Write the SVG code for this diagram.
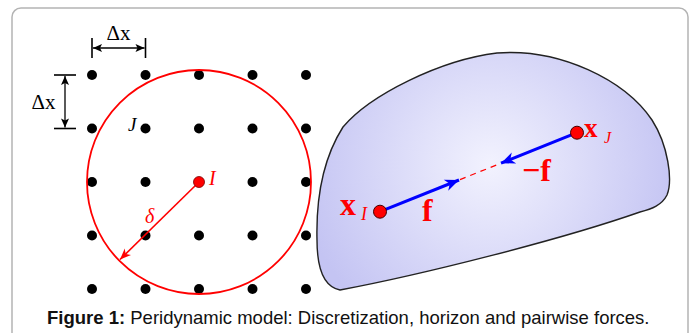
<svg xmlns="http://www.w3.org/2000/svg" width="696" height="333" viewBox="0 0 696 333">
<style>
.dot{fill:#000}
.dim{stroke:#000;stroke-width:1.3;fill:none}
.tick{stroke:#000;stroke-width:1.6}
.lbl{font-family:"Liberation Serif","DejaVu Serif",serif}
.cap{font-family:"Liberation Sans",Arial,sans-serif;font-size:18.5px;fill:#111}
</style>
<defs>
<marker id="ab" viewBox="-10 -5 12 10" refX="0" refY="0" markerWidth="12" markerHeight="10" markerUnits="userSpaceOnUse" orient="auto-start-reverse">
<path d="M0,0 L-9,-4 L-7,0 L-9,4 Z" fill="#000"/>
</marker>
<marker id="ar" viewBox="-12 -6 14 12" refX="0" refY="0" markerWidth="14" markerHeight="12" markerUnits="userSpaceOnUse" orient="auto">
<path d="M0,0 L-11,-4.5 L-8,0 L-11,4.5 Z" fill="#f00"/>
</marker>
<marker id="abl" viewBox="-16 -8 18 16" refX="0" refY="0" markerWidth="18" markerHeight="16" markerUnits="userSpaceOnUse" orient="auto">
<path d="M0,0 L-14,-6 L-10,0 L-14,6 Z" fill="#00f"/>
</marker>
<radialGradient id="bg" cx="490" cy="165" r="190" gradientUnits="userSpaceOnUse">
<stop offset="0" stop-color="#f2f2fe"/>
<stop offset="1" stop-color="#c4c4f3"/>
</radialGradient>
</defs>
<rect x="12" y="8" width="676" height="345" rx="9" fill="#fff" stroke="#b4b4b4" stroke-width="1.5"/>

<g id="grid">
<circle class="dot" cx="92" cy="75" r="5"/><circle class="dot" cx="145.5" cy="75" r="5"/><circle class="dot" cx="199" cy="75" r="5"/><circle class="dot" cx="252.5" cy="75" r="5"/><circle class="dot" cx="306" cy="75" r="5"/>
<circle class="dot" cx="92" cy="128.5" r="5"/><circle class="dot" cx="145.5" cy="128.5" r="5"/><circle class="dot" cx="199" cy="128.5" r="5"/><circle class="dot" cx="252.5" cy="128.5" r="5"/><circle class="dot" cx="306" cy="128.5" r="5"/>
<circle class="dot" cx="92" cy="182" r="5"/><circle class="dot" cx="145.5" cy="182" r="5"/><circle class="dot" cx="252.5" cy="182" r="5"/><circle class="dot" cx="306" cy="182" r="5"/>
<circle class="dot" cx="92" cy="235.5" r="5"/><circle class="dot" cx="145.5" cy="235.5" r="5"/><circle class="dot" cx="199" cy="235.5" r="5"/><circle class="dot" cx="252.5" cy="235.5" r="5"/><circle class="dot" cx="306" cy="235.5" r="5"/>
<circle class="dot" cx="92" cy="289" r="5"/><circle class="dot" cx="145.5" cy="289" r="5"/><circle class="dot" cx="199" cy="289" r="5"/><circle class="dot" cx="252.5" cy="289" r="5"/><circle class="dot" cx="306" cy="289" r="5"/>
</g>

<g id="horizon">
<circle cx="199" cy="182" r="112" fill="none" stroke="#f00" stroke-width="1.8"/>
</g>

<g id="dims">
<line class="tick" x1="92" y1="38" x2="92" y2="58"/>
<line class="tick" x1="145.5" y1="38" x2="145.5" y2="58"/>
<line class="dim" x1="93" y1="48" x2="144.5" y2="48" marker-start="url(#ab)" marker-end="url(#ab)"/>
<text class="lbl" x="118.5" y="40" font-size="21" text-anchor="middle">Δx</text>
<line class="tick" x1="54" y1="75" x2="76" y2="75"/>
<line class="tick" x1="54" y1="128.5" x2="76" y2="128.5"/>
<line class="dim" x1="65" y1="76" x2="65" y2="127.5" marker-start="url(#ab)" marker-end="url(#ab)"/>
<text class="lbl" x="43.5" y="109" font-size="21" text-anchor="middle">Δx</text>
</g>

<g id="labelJ">
<text class="lbl" x="128" y="131" font-size="19" font-style="italic">J</text>
</g>

<g id="nodeI">
<line x1="199" y1="182" x2="120" y2="259.5" stroke="#f00" stroke-width="1.6" marker-end="url(#ar)"/>
<circle cx="199" cy="182" r="5.5" fill="#f00" stroke="#700" stroke-width="0.8"/>
<text class="lbl" x="209" y="185" font-size="20" font-style="italic" fill="#f00">I</text>
<text class="lbl" x="145" y="223" font-size="20" font-style="italic" fill="#f00">δ</text>
</g>

<g id="body">
<path d="M 340,290 C 325,287 317,270 317,240 C 316,200 322,160 343,127 C 370,95 440,60 497,53 C 560,48 625,80 652,120 C 668,145 673,180 667,195 C 662,205 652,209 640,212 C 560,240 420,275 340,290 Z" fill="url(#bg)" stroke="#222" stroke-width="1.4"/>
</g>

<g id="connectors">
<line x1="380" y1="211.7" x2="459" y2="180" stroke="#00f" stroke-width="3" marker-end="url(#abl)"/>
<line x1="577" y1="132.7" x2="501" y2="163.2" stroke="#00f" stroke-width="3" marker-end="url(#abl)"/>
<line x1="460" y1="179.6" x2="500" y2="163.6" stroke="#f00" stroke-width="1.2" stroke-dasharray="6,5"/>
</g>

<g id="nodeXI">
<circle cx="380" cy="211.7" r="6.5" fill="#f00" stroke="#400" stroke-width="1"/>
<text class="lbl" x="340" y="215" font-size="32" font-weight="bold" fill="#f00">x</text>
<text class="lbl" x="361" y="220" font-size="18" font-style="italic" fill="#f00">I</text>
<text class="lbl" x="422" y="221" font-size="32" font-weight="bold" fill="#f00">f</text>
</g>

<g id="nodeXJ">
<circle cx="577" cy="132.7" r="6.5" fill="#f00" stroke="#400" stroke-width="1"/>
<text class="lbl" x="584" y="137" font-size="27" font-weight="bold" fill="#f00">x</text>
<text class="lbl" x="604" y="143" font-size="16" font-style="italic" fill="#f00">J</text>
<text class="lbl" x="522" y="181" font-size="32" font-weight="bold" fill="#f00">−f</text>
</g>

<text class="cap" x="47" y="324"><tspan font-weight="bold">Figure 1:</tspan> Peridynamic model: Discretization, horizon and pairwise forces.</text>
</svg>
